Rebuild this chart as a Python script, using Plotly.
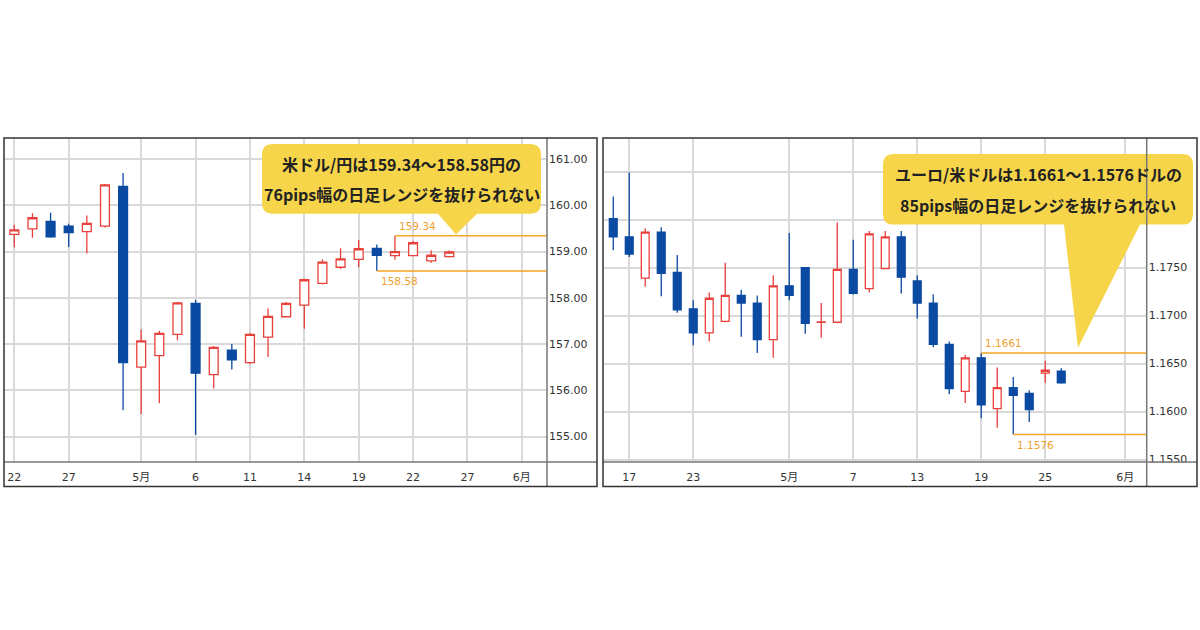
import pandas as pd
import plotly.graph_objects as go

# ---------------- data ----------------
# USD/JPY daily candles
jpy_dates = ["2026-04-22", "2026-04-23", "2026-04-24", "2026-04-27", "2026-04-28",
             "2026-04-29", "2026-04-30", "2026-05-01", "2026-05-04", "2026-05-05",
             "2026-05-06", "2026-05-07", "2026-05-08", "2026-05-11", "2026-05-12",
             "2026-05-13", "2026-05-14", "2026-05-15", "2026-05-18", "2026-05-19",
             "2026-05-20", "2026-05-21", "2026-05-22", "2026-05-25", "2026-05-26"]
jpy_open = [159.37, 159.49, 159.65, 159.55, 159.43, 159.55, 160.41, 156.50, 156.75, 157.21,
            157.88, 156.34, 156.87, 156.60, 157.15, 157.59, 157.84, 158.31, 158.66, 158.83,
            159.07, 158.91, 158.91, 158.80, 158.89]
jpy_high = [159.58, 159.83, 159.84, 159.60, 159.78, 160.46, 160.70, 157.31, 157.29, 157.91,
            157.96, 156.96, 157.00, 157.24, 157.77, 157.91, 158.41, 158.83, 159.07, 159.25,
            159.15, 159.34, 159.23, 159.03, 159.02]
jpy_low = [159.09, 159.30, 159.30, 159.10, 158.96, 159.52, 155.57, 155.49, 155.72, 157.08,
           155.04, 156.04, 156.45, 156.57, 156.72, 157.58, 157.33, 158.29, 158.62, 158.66,
           158.58, 158.82, 158.91, 158.76, 158.87]
jpy_close = [159.47, 159.73, 159.32, 159.41, 159.61, 160.44, 156.60, 157.07, 157.23, 157.89,
             156.37, 156.93, 156.66, 157.21, 157.60, 157.88, 158.39, 158.77, 158.84, 159.06,
             158.92, 159.00, 159.19, 158.92, 158.99]
jpy_range_hi = ("2026-05-21", 159.34)
jpy_range_lo = ("2026-05-20", 158.58)
jpy_ticks = ["2026-04-22", "2026-04-27", "2026-05-01", "2026-05-06", "2026-05-11",
             "2026-05-14", "2026-05-19", "2026-05-22", "2026-05-27", "2026-06-01"]
jpy_ticklabels = ["22", "27", "5月", "6", "11", "14", "19", "22", "27", "6月"]
jpy_yticks = [155, 156, 157, 158, 159, 160, 161]
jpy_ylabels = ["155.00", "156.00", "157.00", "158.00", "159.00", "160.00", "161.00"]

# EUR/USD daily candles
eur_dates = ["2026-04-16", "2026-04-17", "2026-04-20", "2026-04-21", "2026-04-22",
             "2026-04-23", "2026-04-24", "2026-04-27", "2026-04-28", "2026-04-29",
             "2026-04-30", "2026-05-01", "2026-05-04", "2026-05-05", "2026-05-06",
             "2026-05-07", "2026-05-08", "2026-05-11", "2026-05-12", "2026-05-13",
             "2026-05-14", "2026-05-15", "2026-05-18", "2026-05-19", "2026-05-20",
             "2026-05-21", "2026-05-22", "2026-05-25", "2026-05-26"]
eur_open = [1.1801, 1.1782, 1.1739, 1.1787, 1.1745, 1.1707, 1.1682, 1.1694, 1.1721, 1.1713,
            1.1675, 1.1731, 1.1750, 1.1693, 1.1693, 1.1748, 1.1728, 1.1749, 1.1782, 1.1736,
            1.1713, 1.1670, 1.1621, 1.1656, 1.1603, 1.1625, 1.1619, 1.1640, 1.1642]
eur_high = [1.1824, 1.1849, 1.1791, 1.1792, 1.1763, 1.1716, 1.1724, 1.1755, 1.1727, 1.1721,
            1.1742, 1.1786, 1.17505, 1.1713, 1.1797, 1.1779, 1.1788, 1.1788, 1.1788, 1.1742,
            1.1722, 1.1673, 1.1659, 1.1661, 1.1646, 1.1636, 1.1622, 1.1653, 1.1645]
eur_low = [1.1768, 1.1761, 1.1730, 1.1720, 1.1703, 1.1669, 1.1673, 1.1693, 1.1678, 1.1661,
           1.1656, 1.1716, 1.1681, 1.1677, 1.1692, 1.1722, 1.1724, 1.1749, 1.1723, 1.1697,
           1.1667, 1.1618, 1.1609, 1.1593, 1.1583, 1.1576, 1.1589, 1.1630, 1.1629]
eur_close = [1.1782, 1.1764, 1.1787, 1.1744, 1.1706, 1.1682, 1.1718, 1.1721, 1.1713, 1.1675,
             1.1731, 1.1721, 1.1692, 1.16934, 1.1748, 1.1723, 1.1785, 1.1782, 1.1740, 1.1713,
             1.1670, 1.1624, 1.1656, 1.1607, 1.1625, 1.1617, 1.1602, 1.1643, 1.1630]
eur_range_hi = ("2026-05-19", 1.1661)
eur_range_lo = ("2026-05-21", 1.1576)
eur_ticks = ["2026-04-17", "2026-04-23", "2026-05-01", "2026-05-07", "2026-05-13",
             "2026-05-19", "2026-05-25", "2026-06-01"]
eur_ticklabels = ["17", "23", "5月", "7", "13", "19", "25", "6月"]
eur_yticks = [1.1550, 1.1600, 1.1650, 1.1700, 1.1750, 1.1800, 1.1850]
# 1.1800 and 1.1850 sit behind the callout in the original, so no label is shown
eur_ylabels = ["1.1550", "1.1600", "1.1650", "1.1700", "1.1750", "", ""]

jpy_text = ["米ドル/円は159.34～158.58円の", "76pips幅の日足レンジを抜けられない"]
eur_text = ["ユーロ/米ドルは1.1661～1.1576ドルの", "85pips幅の日足レンジを抜けられない"]

# ---------------- styling ----------------
W, H = 1200, 630
RED = "#E8413C"
BLUE = "#0B4AA2"
ORANGE = "#F5A623"
YELLOW = "#F6D54B"
GRID = "#D9D9D9"
TICKFONT = dict(family="DejaVu Sans, Noto Sans CJK JP", size=11, color="#333333")

# business-day calendar -> x position
cal = pd.bdate_range("2026-04-01", "2026-06-30")
pos = {d.strftime("%Y-%m-%d"): i for i, d in enumerate(cal)}


def px(x):
    return x / W


def py(y):
    return 1 - y / H


fig = go.Figure()

charts = [
    dict(dates=jpy_dates, o=jpy_open, h=jpy_high, l=jpy_low, c=jpy_close,
         hi=jpy_range_hi, lo=jpy_range_lo, ticks=jpy_ticks, labels=jpy_ticklabels,
         yticks=jpy_yticks, ylabels=jpy_ylabels, fmt="%.2f",
         xpad=(-0.57, 29.39), yr=[154.45, 161.43],
         frame=(4, 597), plot_right=547, xa="x", ya="y"),
    dict(dates=eur_dates, o=eur_open, h=eur_high, l=eur_low, c=eur_close,
         hi=eur_range_hi, lo=eur_range_lo, ticks=eur_ticks, labels=eur_ticklabels,
         yticks=eur_yticks, ylabels=eur_ylabels, fmt="%.4f",
         xpad=(-0.64, 33.34), yr=[1.15474, 1.18838],
         frame=(603, 1197), plot_right=1146.7, xa="x2", ya="y2"),
]

shapes = []
annotations = []
PLOT_TOP, PLOT_BOTTOM, FRAME_TOP, FRAME_BOTTOM = 140, 465, 139, 489.5

for k, ch in enumerate(charts):
    xs = [pos[d] for d in ch["dates"]]
    fig.add_trace(go.Candlestick(
        x=xs, open=ch["o"], high=ch["h"], low=ch["l"], close=ch["c"],
        xaxis=ch["xa"], yaxis=ch["ya"],
        increasing=dict(line=dict(color=RED, width=1.3), fillcolor="white"),
        decreasing=dict(line=dict(color=BLUE, width=1.3), fillcolor=BLUE),
        whiskerwidth=0, showlegend=False, hoverinfo="skip"))

    x0 = xs[0]
    xr = [x0 + ch["xpad"][0], x0 + ch["xpad"][1]]
    suffix = "" if k == 0 else "2"
    fig.update_layout(**{
        "xaxis" + suffix: dict(
            domain=[px(ch["frame"][0]), px(ch["plot_right"])], range=xr,
            anchor=ch["ya"], tickvals=[pos[t] for t in ch["ticks"]], ticktext=ch["labels"],
            showgrid=True, gridcolor=GRID, gridwidth=1.5, zeroline=False,
            showline=False, ticks="", tickfont=TICKFONT, ticklabelstandoff=7,
            rangeslider=dict(visible=False), fixedrange=True),
        "yaxis" + suffix: dict(
            domain=[py(PLOT_BOTTOM), py(PLOT_TOP)], range=ch["yr"], anchor=ch["xa"],
            side="right", tickvals=ch["yticks"], ticktext=ch["ylabels"],
            showgrid=True, gridcolor=GRID, gridwidth=1.5, zeroline=False,
            showline=False, ticks="", tickfont=TICKFONT, ticklabelstandoff=1,
            fixedrange=True),
    })

    # range lines and labels
    for (d, v), above in [(ch["hi"], True), (ch["lo"], False)]:
        shapes.append(dict(type="line", xref=ch["xa"], yref=ch["ya"],
                           x0=pos[d], x1=xr[1], y0=v, y1=v,
                           line=dict(color=ORANGE, width=1.5), layer="above"))
        annotations.append(dict(xref=ch["xa"], yref=ch["ya"], x=pos[d], y=v,
                                text=ch["fmt"] % v, showarrow=False,
                                xanchor="left", yanchor="bottom" if above else "top",
                                xshift=2, yshift=2 if above else -2,
                                font=dict(family="DejaVu Sans", size=10.5, color="#F0A030")))


# callouts (rounded box with a pointer)
def callout(x0, y0, x1, y1, r, tl, tr, tip):
    pts = [("M", x0 + r, y0), ("L", x1 - r, y0), ("Q", x1, y0, x1, y0 + r),
           ("L", x1, y1 - r), ("Q", x1, y1, x1 - r, y1), ("L", tr, y1),
           ("L", tip[0], tip[1]), ("L", tl, y1), ("L", x0 + r, y1),
           ("Q", x0, y1, x0, y1 - r), ("L", x0, y0 + r), ("Q", x0, y0, x0 + r, y0)]
    path = ""
    for p in pts:
        coords = p[1:]
        path += p[0] + " " + " ".join(
            "%.5f,%.5f" % (px(coords[i]), py(coords[i + 1])) for i in range(0, len(coords), 2)) + " "
    return dict(type="path", xref="paper", yref="paper", path=path + "Z",
                fillcolor=YELLOW, line=dict(width=0), layer="above")


# hide lower half of the cut-off 1.1550 label
shapes.append(dict(type="rect", xref="paper", yref="paper", x0=px(1148), x1=px(1196),
                   y0=py(488.5), y1=py(465.5), fillcolor="white", line=dict(width=0),
                   layer="above"))

shapes.append(callout(262, 145, 541, 215, 11, 438, 477, (456, 236)))
shapes.append(callout(883, 155, 1193, 226, 11, 1064, 1140, (1078, 350)))

for ch in charts:
    f0, f1 = ch["frame"]
    pr = ch["plot_right"]
    # axis lines
    shapes.append(dict(type="line", xref="paper", yref="paper", x0=px(pr), x1=px(pr),
                       y0=py(FRAME_TOP), y1=py(FRAME_BOTTOM),
                       line=dict(color="#777777", width=1.5), layer="above"))
    shapes.append(dict(type="line", xref="paper", yref="paper", x0=px(f0), x1=px(f1),
                       y0=py(PLOT_BOTTOM), y1=py(PLOT_BOTTOM),
                       line=dict(color="#777777", width=1.5), layer="above"))
    # frame
    shapes.append(dict(type="rect", xref="paper", yref="paper", x0=px(f0), x1=px(f1),
                       y0=py(FRAME_BOTTOM), y1=py(FRAME_TOP),
                       line=dict(color="#333333", width=1.5), layer="above"))

textfont = dict(family="Noto Sans CJK JP", size=16, color="#222222", weight="bold")
for cx, lines, ys in [(401.5, jpy_text, (165, 195)), (1038, eur_text, (175.5, 206))]:
    for t, yy in zip(lines, ys):
        annotations.append(dict(xref="paper", yref="paper", x=px(cx), y=py(yy),
                                text="<b>" + t + "</b>", showarrow=False,
                                xanchor="center", yanchor="middle", font=textfont))

fig.update_layout(
    width=W, height=H, margin=dict(l=0, r=0, t=0, b=0),
    paper_bgcolor="white", plot_bgcolor="white",
    shapes=shapes, annotations=annotations, showlegend=False)

# the page's default body margin would push the figure 8px off the top-left corner
fig.write_html("out.html", config={"displayModeBar": False},
               post_script="document.body.style.margin='0';")
